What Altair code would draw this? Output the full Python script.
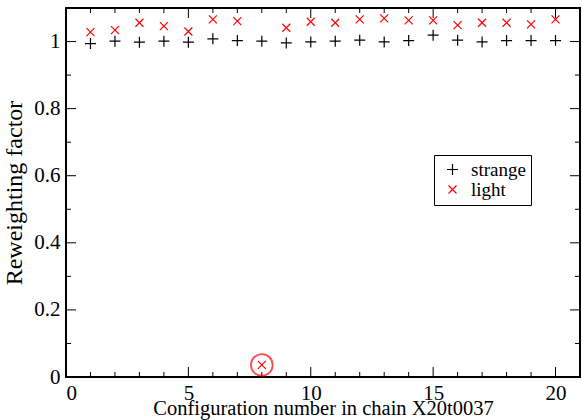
import altair as alt
import pandas as pd

# Reweighting factors per configuration of chain X20t0037
config_nums = list(range(1, 21))
strange = [0.994, 1.001, 0.998, 1.001, 0.998, 1.008, 1.003, 1.001, 0.996, 0.999,
           1.001, 1.004, 0.999, 1.003, 1.019, 1.004, 0.999, 1.003, 1.003, 1.003]
light = [1.028, 1.034, 1.056, 1.046, 1.030, 1.066, 1.061, 0.036, 1.041, 1.059,
         1.056, 1.066, 1.069, 1.063, 1.063, 1.049, 1.056, 1.056, 1.051, 1.066]
series_names = ["strange", "light"]
series_colors = ["black", "red"]
highlight_config = 8

x_ticks = list(range(0, 22))
y_ticks = [round(0.1 * i, 1) for i in range(0, 12)]
x_labels = [0, 5, 10, 15, 20]
y_labels = [0, 0.2, 0.4, 0.6, 0.8, 1.0]

W, H = 514, 369
FONT = "Liberation Serif, Times New Roman, serif"

PLUS = "M-1,0L1,0M0,-1L0,1"
CROSS = "M-1,-1L1,1M-1,1L1,-1"

df = pd.DataFrame({
    "config": config_nums * 2,
    "factor": strange + light,
    "series": ["strange"] * len(strange) + ["light"] * len(light),
})
hl = pd.DataFrame({"config": [highlight_config],
                   "factor": [light[config_nums.index(highlight_config)]]})
xt = pd.DataFrame({"t": x_ticks, "major": [t % 5 == 0 for t in x_ticks]})
yt = pd.DataFrame({"t": y_ticks, "major": [round(t * 10) % 2 == 0 for t in y_ticks]})

xs = alt.Scale(domain=[0, 21], nice=False, zero=False)
ys = alt.Scale(domain=[0, 1.1], nice=False, zero=False)

x_axis = alt.Axis(values=x_labels, ticks=False, domain=False, grid=False,
                  labelFont=FONT, labelFontSize=21, labelColor="black", labelPadding=5,
                  title="Configuration number in chain X20t0037",
                  titleFont=FONT, titleFontSize=20.5, titleFontWeight="normal",
                  titleColor="black", titlePadding=-5)
y_axis = alt.Axis(values=y_labels, format="~g", ticks=False, domain=False, grid=False,
                  labelFont=FONT, labelFontSize=21, labelColor="black", labelPadding=6,
                  title="Reweighting factor",
                  titleFont=FONT, titleFontSize=24, titleFontWeight="normal",
                  titleColor="black", titlePadding=7)

points = alt.Chart(df).mark_point(filled=False, strokeWidth=1.2, opacity=1).encode(
    x=alt.X("config:Q", scale=xs, axis=x_axis),
    y=alt.Y("factor:Q", scale=ys, axis=y_axis),
    color=alt.Color("series:N", scale=alt.Scale(domain=series_names, range=series_colors),
                    sort=series_names, legend=alt.Legend(
                        title=None, orient="none", legendX=368, legendY=147,
                        strokeColor="black", fillColor="white", padding=5,
                        labelFont=FONT, labelFontSize=19, labelColor="black",
                        symbolStrokeWidth=1.2, symbolSize=100, rowPadding=0,
                        labelOffset=9, symbolOffset=4)),
    shape=alt.Shape("series:N", scale=alt.Scale(domain=series_names, range=[PLUS, CROSS]),
                    sort=series_names),
    size=alt.Size("series:N", scale=alt.Scale(domain=series_names, range=[121, 64]),
                  legend=None),
)

ring = alt.Chart(hl).mark_point(shape="circle", filled=False, color="red",
                                strokeWidth=1.8, size=470).encode(
    x=alt.X("config:Q", scale=xs), y=alt.Y("factor:Q", scale=ys))


def x_rules(major, length, top):
    base = alt.Chart(xt).transform_filter(
        "datum.major" if major else "!datum.major")
    y0 = 0 if top else H
    y1 = length if top else H - length
    return base.mark_rule(color="black", strokeWidth=1).encode(
        x=alt.X("t:Q", scale=xs), y=alt.value(y0), y2=alt.value(y1))


def y_rules(major, length, right):
    base = alt.Chart(yt).transform_filter(
        "datum.major" if major else "!datum.major")
    x0 = W if right else 0
    x1 = W - length if right else length
    return base.mark_rule(color="black", strokeWidth=1).encode(
        y=alt.Y("t:Q", scale=ys), x=alt.value(x0), x2=alt.value(x1))


ticks = [x_rules(True, 10, False), x_rules(False, 5, False),
         x_rules(True, 10, True), x_rules(False, 5, True),
         y_rules(True, 10, False), y_rules(False, 5, False),
         y_rules(True, 10, True), y_rules(False, 5, True)]

chart = alt.layer(*ticks, points, ring).properties(
    width=W, height=H,
    background="white",
    autosize=alt.AutoSizeParams(type="none"),
    padding={"left": 66, "top": 8, "right": 2, "bottom": 43},
).configure_view(stroke="black", strokeWidth=2)

chart.save("out.html", embed_options={"renderer": "svg", "actions": False})
